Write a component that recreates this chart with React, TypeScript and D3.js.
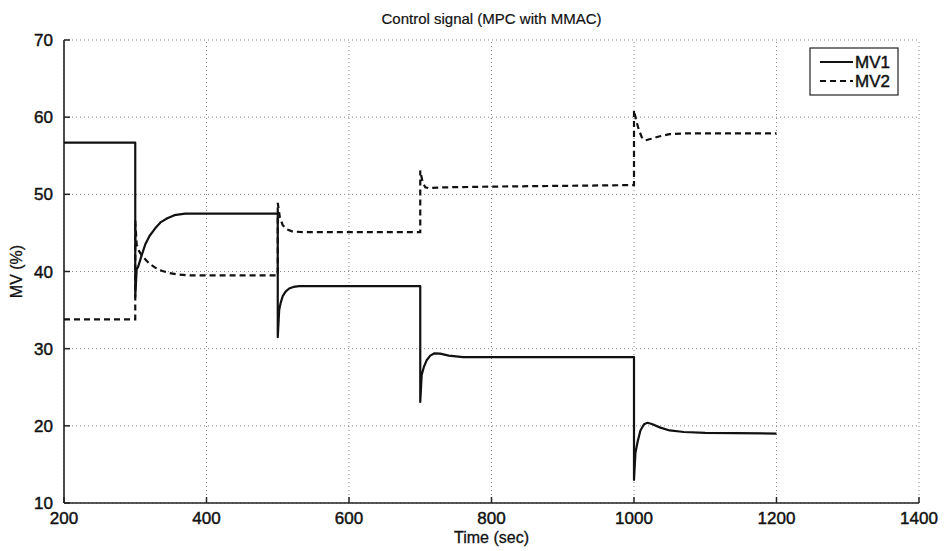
import React from "react";
import * as d3 from "d3";

const xTicks = [200, 400, 600, 800, 1000, 1200, 1400];
const yTicks = [10, 20, 30, 40, 50, 60, 70];

const mv1Time = [200, 300, 300, 302, 304, 308, 314, 320, 328, 336, 345, 355, 370, 500,
  500, 502, 504, 507, 511, 516, 522, 530, 700,
  700, 702, 705, 709, 714, 720, 728, 740, 760, 1000,
  1000, 1002, 1005, 1009, 1014, 1019, 1026, 1036, 1050, 1070, 1100, 1200];
const mv1Value = [56.7, 56.7, 36.7, 40.3, 40.6, 41.8, 43.5, 44.6, 45.6, 46.4, 46.9, 47.3, 47.5, 47.5,
  31.5, 35.0, 35.9, 36.8, 37.4, 37.8, 38.0, 38.1, 38.1,
  23.1, 26.6, 27.6, 28.5, 29.1, 29.4, 29.35, 29.1, 28.9, 28.9,
  13.0, 16.5, 17.9, 19.4, 20.2, 20.4, 20.2, 19.8, 19.4, 19.2, 19.1, 19.0];

const mv2Time = [200, 300, 300, 302, 305, 309, 314, 320, 328, 337, 348, 360, 375, 500,
  500, 503, 507, 512, 520, 535, 700,
  700, 703, 707, 712, 730, 800, 1000,
  1000, 1003, 1007, 1011, 1016, 1024, 1035, 1050, 1070, 1200];
const mv2Value = [33.8, 33.8, 46.6, 43.5, 42.7, 42.1, 41.6, 41.0, 40.5, 40.1, 39.8, 39.6, 39.5, 39.5,
  48.9, 47.0, 46.0, 45.5, 45.2, 45.1, 45.1,
  53.1, 51.7, 50.9, 50.8, 50.9, 51.0, 51.2,
  60.9, 59.6, 58.3, 57.4, 57.0, 57.2, 57.5, 57.8, 57.9, 57.9];

const seriesNames = ["MV1", "MV2"];
const title = "Control signal (MPC with MMAC)";
const xLabel = "Time (sec)";
const yLabel = "MV (%)";

const W = 944, H = 551;
const M = { left: 64, right: 25, top: 40, bottom: 48 };
const font = "'Liberation Sans', Arial, sans-serif";

export default function App() {
  const x = d3.scaleLinear().domain([200, 1400]).range([M.left, W - M.right]);
  const y = d3.scaleLinear().domain([10, 70]).range([H - M.bottom, M.top]);
  const line = d3.line<[number, number]>().x(d => x(d[0])).y(d => y(d[1]));
  const d1 = line(mv1Time.map((t, i) => [t, mv1Value[i]]));
  const d2 = line(mv2Time.map((t, i) => [t, mv2Value[i]]));
  const [x0, x1] = x.range();
  const [y0, y1] = y.range();
  const lx = 810, ly = 48;
  const heavy = { stroke: "#111", strokeWidth: 0.45 };
  return (
    <svg width={W} height={H} style={{ position: "absolute", left: 0, top: 0, background: "#fff" }}
      fontFamily={font}>
      {xTicks.map(t => (
        <line key={"gx" + t} x1={x(t)} x2={x(t)} y1={y0} y2={y1} stroke="#888" strokeWidth={1} strokeDasharray="1,3" />
      ))}
      {yTicks.map(t => (
        <line key={"gy" + t} x1={x0} x2={x1} y1={y(t)} y2={y(t)} stroke="#888" strokeWidth={1} strokeDasharray="1,3" />
      ))}
      <line x1={x0} x2={x0} y1={y0} y2={y1} stroke="#222" strokeWidth={1.6} />
      <line x1={x0} x2={x1} y1={y0} y2={y0} stroke="#222" strokeWidth={1.6} />
      {xTicks.map(t => (
        <g key={"tx" + t}>
          <line x1={x(t)} x2={x(t)} y1={y0} y2={y0 - 6} stroke="#222" strokeWidth={1.5} />
          <text x={x(t)} y={y0 + 21} textAnchor="middle" fontSize={17} fill="#111" {...heavy}>{t}</text>
        </g>
      ))}
      {yTicks.map(t => (
        <g key={"ty" + t}>
          <line x1={x0} x2={x0 + 6} y1={y(t)} y2={y(t)} stroke="#222" strokeWidth={1.5} />
          <text x={x0 - 11} y={y(t) + 6} textAnchor="end" fontSize={17} fill="#111" {...heavy}>{t}</text>
        </g>
      ))}
      <path d={d1 || ""} fill="none" stroke="#111" strokeWidth={2.2} strokeLinejoin="round" />
      <path d={d2 || ""} fill="none" stroke="#111" strokeWidth={2.2} strokeDasharray="6,4" />
      <text x={(x0 + x1) / 2} y={24} textAnchor="middle" fontSize={15} fill="#111" stroke="#111" strokeWidth={0.2}>{title}</text>
      <text x={(x0 + x1) / 2} y={543} textAnchor="middle" fontSize={16} fill="#111" stroke="#111" strokeWidth={0.3}>{xLabel}</text>
      <text transform={`translate(22,${(y0 + y1) / 2}) rotate(-90)`} textAnchor="middle" fontSize={16} fill="#111" stroke="#111" strokeWidth={0.3}>{yLabel}</text>
      <rect x={lx} y={ly} width={88} height={47} fill="#fff" stroke="#222" strokeWidth={1.2} />
      <line x1={lx + 10} x2={lx + 43} y1={ly + 14} y2={ly + 14} stroke="#111" strokeWidth={2} />
      <line x1={lx + 10} x2={lx + 43} y1={ly + 33} y2={ly + 33} stroke="#111" strokeWidth={2} strokeDasharray="6,4" />
      <text x={lx + 45} y={ly + 20} fontSize={17} fill="#111" {...heavy}>{seriesNames[0]}</text>
      <text x={lx + 45} y={ly + 39} fontSize={17} fill="#111" {...heavy}>{seriesNames[1]}</text>
    </svg>
  );
}
